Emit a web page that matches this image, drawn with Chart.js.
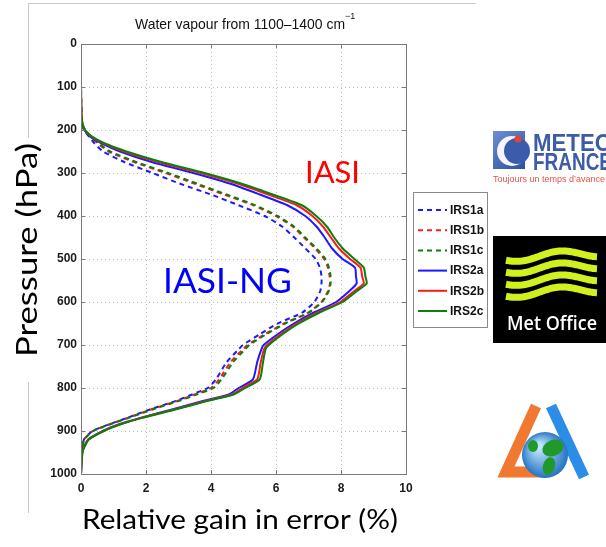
<!DOCTYPE html>
<html>
<head>
<meta charset="utf-8">
<script src="https://cdn.jsdelivr.net/npm/chart.js@4/dist/chart.umd.min.js"></script>
<style>
  html, body { margin: 0; padding: 0; background: #fff; }
  #wrap { width: 606px; height: 547px; }
</style>
</head>
<body>
<div id="wrap"><canvas id="c" width="606" height="547"></canvas></div>
<script>
// pressure levels (hPa) shared by every profile
const pressure = [0, 100, 170, 190, 200, 215, 230, 250, 275, 300, 325, 350, 375, 400, 425, 450, 475, 500, 520, 540, 557, 575, 600, 625, 650, 675, 700, 710, 740, 780, 800, 815, 830, 850, 870, 885, 900, 920, 945, 970, 1000];

// relative gain in error (%) per profile
const irs1a = [0, 0, 0.01, 0.05, 0.10, 0.24, 0.40, 0.68, 1.35, 2.20, 3.05, 4.00, 4.85, 5.65, 6.20, 6.56, 6.90, 7.22, 7.35, 7.40, 7.40, 7.36, 7.18, 6.80, 6.05, 5.50, 4.98, 4.85, 4.48, 4.15, 3.90, 3.42, 2.92, 2.12, 1.40, 0.85, 0.35, 0.09, 0.03, 0.01, 0];
const irs1b = [0, 0, 0.02, 0.06, 0.12, 0.28, 0.50, 0.85, 1.65, 2.60, 3.50, 4.40, 5.30, 6.00, 6.52, 6.86, 7.20, 7.48, 7.60, 7.65, 7.66, 7.60, 7.40, 6.98, 6.25, 5.65, 5.12, 4.98, 4.60, 4.25, 4.00, 3.50, 2.97, 2.15, 1.42, 0.86, 0.36, 0.09, 0.03, 0.01, 0];
const irs1c = [0, 0, 0.02, 0.07, 0.13, 0.30, 0.53, 0.90, 1.72, 2.68, 3.58, 4.48, 5.36, 6.05, 6.56, 6.90, 7.24, 7.52, 7.63, 7.68, 7.68, 7.62, 7.42, 7.00, 6.28, 5.70, 5.18, 5.05, 4.68, 4.32, 4.08, 3.56, 3.02, 2.20, 1.45, 0.88, 0.37, 0.10, 0.03, 0.01, 0];
const irs2a = [0, 0, 0.01, 0.05, 0.10, 0.27, 0.60, 1.20, 2.20, 3.45, 4.60, 5.50, 6.35, 6.90, 7.25, 7.50, 7.72, 8.05, 8.43, 8.46, 8.48, 8.25, 7.85, 7.15, 6.55, 6.05, 5.62, 5.55, 5.42, 5.29, 4.85, 4.55, 3.75, 2.80, 1.80, 1.15, 0.68, 0.22, 0.05, 0.02, 0];
const irs2b = [0, 0, 0.02, 0.06, 0.11, 0.31, 0.66, 1.32, 2.40, 3.68, 4.83, 5.76, 6.64, 7.12, 7.45, 7.69, 7.93, 8.28, 8.60, 8.65, 8.70, 8.40, 7.98, 7.26, 6.64, 6.14, 5.72, 5.63, 5.53, 5.42, 4.97, 4.64, 3.84, 2.86, 1.83, 1.18, 0.69, 0.23, 0.05, 0.02, 0];
const irs2c = [0, 0, 0.02, 0.06, 0.12, 0.33, 0.70, 1.40, 2.50, 3.80, 4.95, 5.90, 6.80, 7.24, 7.57, 7.79, 8.05, 8.41, 8.70, 8.75, 8.79, 8.48, 8.05, 7.33, 6.70, 6.20, 5.78, 5.68, 5.60, 5.50, 5.05, 4.70, 3.90, 2.90, 1.85, 1.20, 0.70, 0.24, 0.06, 0.02, 0];

const seriesNames = ['IRS1a', 'IRS1b', 'IRS1c', 'IRS2a', 'IRS2b', 'IRS2c'];
const seriesValues = [irs1a, irs1b, irs1c, irs2a, irs2b, irs2c];

const xTicks = [0, 2, 4, 6, 8, 10];
const yTicks = [0, 100, 200, 300, 400, 500, 600, 700, 800, 900, 1000];

const lineColors = ['#1a1aff', '#ff1a1a', '#0a800a', '#1a1aff', '#ff1a1a', '#0a800a'];
const lineDashes = [[5, 4], [5, 4], [5, 4], [], [], []];

const sans = 'Lato, "Open Sans", sans-serif';
const arial = '"Liberation Sans", Arial, sans-serif';

// text at a given size, squeezed or stretched sideways to a set width
function squeezeText(ctx, text, x, y, width, size, family, weight, align) {
  ctx.save();
  ctx.font = `${weight} ${size}px ${family}`;
  const k = width / ctx.measureText(text).width;
  ctx.translate(align === 'center' ? x - width / 2 : x, y);
  ctx.scale(k, 1);
  ctx.textAlign = 'left';
  ctx.fillText(text, 0, 0);
  ctx.restore();
}

// text sized so it spans a set width
function sizedText(ctx, text, x, y, width, family, align) {
  ctx.font = `100px ${family}`;
  const size = 100 * width / ctx.measureText(text).width;
  ctx.font = `${size}px ${family}`;
  ctx.textAlign = align;
  ctx.fillText(text, x, y);
  ctx.textAlign = 'left';
}

function circle(ctx, x, y, r) {
  ctx.beginPath();
  ctx.arc(x, y, r, 0, Math.PI * 2);
  ctx.fill();
}

function drawMeteoFrance(ctx) {
  const g = ctx.createLinearGradient(493, 131, 525, 169);
  g.addColorStop(0, '#6f8fd2');
  g.addColorStop(1, '#2d4f9e');
  ctx.fillStyle = g;
  ctx.fillRect(493, 131, 32, 38);
  ctx.fillStyle = '#f4f6fb';
  circle(ctx, 512, 151, 15);
  ctx.fillStyle = '#3a5cab';
  circle(ctx, 517, 151, 13);
  ctx.fillStyle = '#e0453a';
  circle(ctx, 518, 139, 3.5);

  ctx.fillStyle = '#3c5ba8';
  ctx.textBaseline = 'alphabetic';
  squeezeText(ctx, 'METEO', 533, 151, 79, 23, arial, 'bold', 'left');
  squeezeText(ctx, 'FRANCE', 533, 170, 79, 23, arial, 'bold', 'left');
  ctx.fillStyle = '#e0564a';
  ctx.font = '9px ' + arial;
  ctx.fillText('Toujours un temps d\u2019avance', 493, 182);
}

function drawMetOffice(ctx) {
  ctx.fillStyle = '#000';
  ctx.fillRect(493, 236, 113, 107);
  ctx.strokeStyle = '#d2f01e';
  ctx.lineWidth = 7;
  ctx.lineCap = 'butt';
  for (let k = 0; k < 4; k++) {
    const y0 = 258 + k * 12;
    ctx.beginPath();
    for (let x = 506; x <= 597; x += 1) {
      const t = (x - 506) / 91;
      const y = y0 + 4 * Math.sin(t * Math.PI * 2.2 + 0.6) - t * 5;
      if (x === 506) ctx.moveTo(x, y); else ctx.lineTo(x, y);
    }
    ctx.stroke();
  }
  ctx.fillStyle = '#fff';
  squeezeText(ctx, 'Met Office', 507, 330, 90, 20, '"Open Sans", "Noto Sans", sans-serif', '600', 'left');
}

function drawGlobeLogo(ctx) {
  ctx.lineCap = 'butt';
  ctx.strokeStyle = '#f07830';
  ctx.lineWidth = 11;
  ctx.beginPath();
  ctx.moveTo(536, 406);
  ctx.lineTo(506, 472);
  ctx.lineTo(548, 472);
  ctx.stroke();
  ctx.strokeStyle = '#2a8ee8';
  ctx.beginPath();
  ctx.moveTo(551, 406);
  ctx.lineTo(584, 477);
  ctx.stroke();
  const g = ctx.createRadialGradient(538, 446, 3, 545, 455, 24);
  g.addColorStop(0, '#bfe6ff');
  g.addColorStop(1, '#1f6fc0');
  ctx.fillStyle = g;
  circle(ctx, 545, 455, 23);
  ctx.fillStyle = '#1f9a2a';
  ctx.beginPath();
  ctx.ellipse(553, 448, 11, 8, -0.4, 0, Math.PI * 2);
  ctx.fill();
  ctx.beginPath();
  ctx.ellipse(549, 466, 6, 9, 0.3, 0, Math.PI * 2);
  ctx.fill();
  ctx.beginPath();
  ctx.ellipse(533, 446, 5, 6, 0, 0, Math.PI * 2);
  ctx.fill();
}

const decor = {
  id: 'decor',
  afterDraw(chart) {
    const ctx = chart.ctx;
    const a = chart.chartArea;
    const xs = chart.scales.x, ys = chart.scales.y;
    ctx.save();

    // axes box with inward ticks
    ctx.strokeStyle = '#7a7a7a';
    ctx.lineWidth = 1;
    ctx.strokeRect(Math.round(a.left) + 0.5, Math.round(a.top) + 0.5, Math.round(a.right - a.left), Math.round(a.bottom - a.top));
    ctx.beginPath();
    xTicks.forEach(v => {
      const px = Math.round(xs.getPixelForValue(v)) + 0.5;
      ctx.moveTo(px, a.bottom); ctx.lineTo(px, a.bottom - 4);
      ctx.moveTo(px, a.top); ctx.lineTo(px, a.top + 4);
    });
    yTicks.forEach(v => {
      const py = Math.round(ys.getPixelForValue(v)) + 0.5;
      ctx.moveTo(a.left, py); ctx.lineTo(a.left + 4, py);
      ctx.moveTo(a.right, py); ctx.lineTo(a.right - 4, py);
    });
    ctx.stroke();

    // figure frame
    ctx.strokeStyle = '#c8c8c8';
    ctx.beginPath();
    ctx.moveTo(28.5, 3.5); ctx.lineTo(476, 3.5);
    ctx.moveTo(28.5, 3.5); ctx.lineTo(28.5, 138);
    ctx.moveTo(28.5, 382); ctx.lineTo(28.5, 513);
    ctx.stroke();

    // plot title
    ctx.fillStyle = '#111';
    ctx.textBaseline = 'alphabetic';
    squeezeText(ctx, 'Water vapour from 1100\u20131400 cm', 135, 29, 210, 15, arial, 'normal', 'left');
    ctx.font = '9px ' + arial;
    ctx.fillText('\u22121', 345, 19);

    // axis titles
    ctx.fillStyle = '#000';
    squeezeText(ctx, 'Relative gain in error (%)', 240, 529, 316, 26, sans, 'normal', 'center');
    ctx.save();
    ctx.translate(37, 250);
    ctx.rotate(-Math.PI / 2);
    squeezeText(ctx, 'Pressure (hPa)', 0, 0, 214, 28, sans, 'normal', 'center');
    ctx.restore();

    // instrument labels
    ctx.fillStyle = '#ff0000';
    sizedText(ctx, 'IASI', 305, 183, 55, sans, 'left');
    ctx.fillStyle = '#0000ff';
    sizedText(ctx, 'IASI-NG', 163, 293, 129, sans, 'left');

    // legend
    ctx.fillStyle = '#fff';
    ctx.fillRect(413, 192, 74, 135);
    ctx.strokeStyle = '#8a8a8a';
    ctx.lineWidth = 1;
    ctx.strokeRect(413.5, 192.5, 74, 135);
    seriesNames.forEach((name, i) => {
      const y = 210 + i * 20.2;
      ctx.strokeStyle = lineColors[i];
      ctx.lineWidth = 2;
      ctx.setLineDash(lineDashes[i]);
      ctx.beginPath();
      ctx.moveTo(418, y); ctx.lineTo(447, y);
      ctx.stroke();
      ctx.setLineDash([]);
      ctx.fillStyle = '#111';
      ctx.font = 'bold 12px ' + arial;
      ctx.textBaseline = 'middle';
      ctx.fillText(name, 450, y + 0.5);
    });
    ctx.textBaseline = 'alphabetic';

    drawMeteoFrance(ctx);
    drawMetOffice(ctx);
    drawGlobeLogo(ctx);
    ctx.restore();
  }
};

const datasets = seriesNames.map((name, i) => ({
  label: name,
  data: pressure.map((p, j) => ({ x: seriesValues[i][j], y: p })),
  borderColor: lineColors[i],
  backgroundColor: lineColors[i],
  borderWidth: 2,
  borderDash: lineDashes[i],
  pointRadius: 0,
  showLine: true,
  tension: 0.2,
  order: seriesNames.length - 1 - i
}));

const tickFont = { family: arial, size: 12, weight: 'bold' };

new Chart(document.getElementById('c'), {
  type: 'scatter',
  data: { datasets },
  options: {
    responsive: false,
    animation: false,
    layout: { padding: { left: 0, right: 200, top: 44, bottom: 43 } },
    plugins: { legend: { display: false }, title: { display: false }, tooltip: { enabled: false } },
    scales: {
      x: {
        type: 'linear', min: 0, max: 10,
        afterBuildTicks: s => { s.ticks = xTicks.map(v => ({ value: v })); },
        afterFit: s => { s.height = 30; },
        ticks: { font: tickFont, color: '#1a1a1a', padding: 7, maxRotation: 0, callback: v => String(v) },
        grid: { color: '#bdbdbd', drawTicks: false },
        border: { display: false, dash: [1, 3] }
      },
      y: {
        type: 'linear', min: 0, max: 1000, reverse: true,
        afterBuildTicks: s => { s.ticks = yTicks.map(v => ({ value: v })); },
        afterFit: s => { s.width = 81; },
        ticks: { font: tickFont, color: '#1a1a1a', padding: 4, callback: v => String(v) },
        grid: { color: '#bdbdbd', drawTicks: false },
        border: { display: false, dash: [1, 3] }
      }
    }
  },
  plugins: [decor]
});
</script>
</body>
</html>
